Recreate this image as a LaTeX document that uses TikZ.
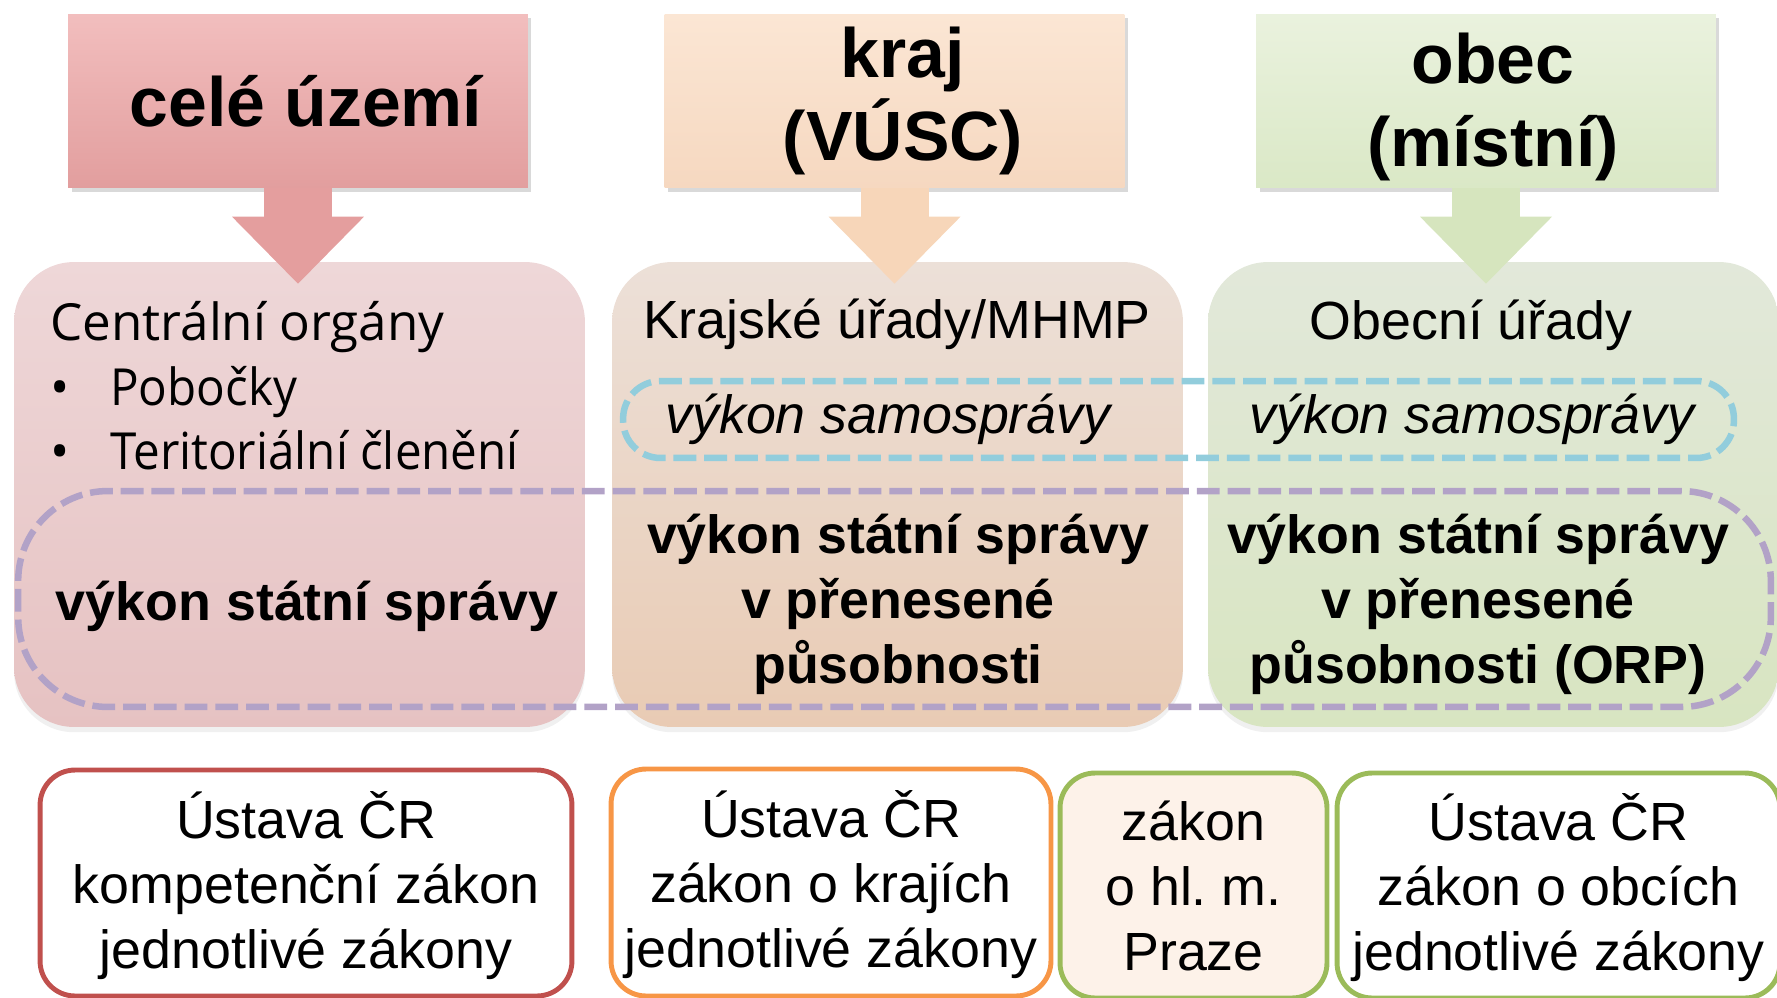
\documentclass[tikz,border=0pt]{standalone}
\usepackage{fontspec}
\setmainfont{Liberation Sans}
\newfontfamily\opensans{Open Sans}
\usetikzlibrary{arrows.meta,shadows}

\definecolor{celtop}{RGB}{242,190,190}
\definecolor{celbot}{RGB}{226,158,158}
\definecolor{krajtop}{RGB}{251,230,212}
\definecolor{krajbot}{RGB}{246,216,192}
\definecolor{obectop}{RGB}{234,242,222}
\definecolor{obecbot}{RGB}{218,232,198}
\definecolor{celarr}{RGB}{228,158,158}
\definecolor{krajarr}{RGB}{247,214,185}
\definecolor{obecarr}{RGB}{214,229,190}
\definecolor{centop}{RGB}{238,215,216}
\definecolor{cenbot}{RGB}{230,194,194}
\definecolor{kutop}{RGB}{236,224,216}
\definecolor{kubot}{RGB}{233,203,180}
\definecolor{outop}{RGB}{226,232,218}
\definecolor{oubot}{RGB}{216,229,193}
\definecolor{samoblue}{RGB}{146,205,220}
\definecolor{prenpurple}{RGB}{178,162,199}
\definecolor{lawred}{RGB}{192,80,77}
\definecolor{laworange}{RGB}{247,150,70}
\definecolor{lawgreen}{RGB}{155,187,89}
\definecolor{prahafill}{RGB}{253,242,233}

\newcommand{\bodysize}{\fontsize{30.6}{37}\selectfont}
\newcommand{\tstr}{\rule{0pt}{1em}}
\newcommand{\bstr}{\rule[-0.25em]{0pt}{0.25em}}
\newcommand{\bitem}[1]{\makebox[1.2cm][l]{\textbullet}\scalebox{0.93}[1]{#1}}

\begin{document}
\frenchspacing
\begin{tikzpicture}[
  x=0.02cm, y=-0.02cm,
  topbox/.style={rectangle, inner sep=0pt, minimum width=9.2cm, minimum height=3.48cm, drop shadow={opacity=0.3, shadow xshift=2pt, shadow yshift=-2.5pt}},
  title/.style={anchor=north, align=center, inner sep=0pt, font=\fontsize{39.7}{47.3}\selectfont\bfseries},
  midbox/.style={rectangle, rounded corners=1.2cm, inner sep=0pt, minimum width=11.42cm, minimum height=9.3cm, drop shadow={opacity=0.12, shadow xshift=0pt, shadow yshift=-3pt}},
  blockarr/.style={line width=1.36cm, -{Triangle[length=1.34cm, width=2.64cm, line width=0pt]}, shorten >=-0.44cm},
  body/.style={inner sep=0pt, font=\bodysize},
  samotext/.style={inner sep=0pt, font=\bodysize\itshape},
  stat/.style={inner sep=0pt, font=\bodysize\bfseries},
  dashbox/.style={rectangle, inner sep=0pt, line width=3.7pt, dash pattern=on 13pt off 4.5pt},
  lawbox/.style={rectangle, rounded corners=0.7cm, line width=2.8pt, inner sep=0pt, fill=white, align=center, font=\bodysize, minimum height=4.52cm}
]
\useasboundingbox (0,0) rectangle (1777,997);

% Levels
\node[topbox, top color=celtop, bottom color=celbot] (celek) at (298,101) {};
\node[topbox, top color=krajtop, bottom color=krajbot] (kraj) at (894.5,101) {};
\node[topbox, top color=obectop, bottom color=obecbot] (obec) at (1486,101) {};
\node[title] (celekt) at (306,56) {\tstr celé území};
\node[title] (krajt) at (903,7) {\tstr kraj\\(VÚSC)};
\node[title] (obect) at (1493,13) {\tstr obec\\(místní)};

% Offices
\node[midbox, top color=centop, bottom color=cenbot] (cen) at (299.5,494.5) {};
\node[midbox, top color=kutop, bottom color=kubot] (ku) at (897.5,494.5) {};
\node[midbox, top color=outop, bottom color=oubot] (ou) at (1493.5,494.5) {};

% Arrows
\draw[blockarr, celarr] (celek.south) -- (celek.south |- cen.north);
\draw[blockarr, krajarr] (kraj.south) -- (kraj.south |- ku.north);
\draw[blockarr, obecarr] (obec.south) -- (obec.south |- ou.north);

% Dashed groups
\node[dashbox, draw=samoblue, rounded corners=0.75cm, minimum width=22.22cm, minimum height=1.54cm] (samo) at (1178.5,419.5) {};
\node[dashbox, draw=prenpurple, rounded corners=1.8cm, minimum width=35.06cm, minimum height=4.32cm] (pren) at (894.5,599) {};

% Office texts
\node[anchor=north west, align=left, inner sep=0pt, font=\opensans\fontsize{29.1}{36.8}\selectfont] (centt) at (50,289)
  {\tstr Centrální orgány\\\bitem{Pobočky}\\\bitem{Teritoriální členění}};
\node[body, anchor=base] (kut) at (897,338) {Krajské úřady/MHMP};
\node[body, anchor=base] (out) at (1471,339) {Obecní úřady};
\node[samotext, anchor=base] (samok) at (888,433) {výkon samosprávy};
\node[samotext, anchor=base] (samoo) at (1472,433) {výkon samosprávy};
\node[stat, anchor=base] (statc) at (307,620) {výkon státní správy};
\node[stat, anchor=north, align=center] (statk) at (898,499) {\tstr výkon státní správy\\v přenesené\\působnosti};
\node[stat, anchor=north, align=center] (stato) at (1478,499) {\tstr výkon státní správy\\v přenesené\\působnosti (ORP)};

% Laws
\node[lawbox, draw=lawred, minimum width=10.64cm] (law1) at (306,883) {\tstr Ústava ČR\\kompetenční zákon\\jednotlivé zákony\bstr};
\node[lawbox, draw=laworange, minimum width=8.8cm, minimum height=4.54cm] (law2) at (831,882.5) {\tstr Ústava ČR\\zákon o krajích\\jednotlivé zákony\bstr};
\node[lawbox, draw=lawgreen, fill=prahafill, minimum width=5.34cm, minimum height=4.5cm] (law3) at (1193.5,885.5) {\tstr zákon\\o hl. m.\\Praze\bstr};
\node[lawbox, draw=lawgreen, minimum width=8.86cm, minimum height=4.5cm] (law4) at (1558.5,885.5) {\tstr Ústava ČR\\zákon o obcích\\jednotlivé zákony\bstr};

\end{tikzpicture}
\end{document}
